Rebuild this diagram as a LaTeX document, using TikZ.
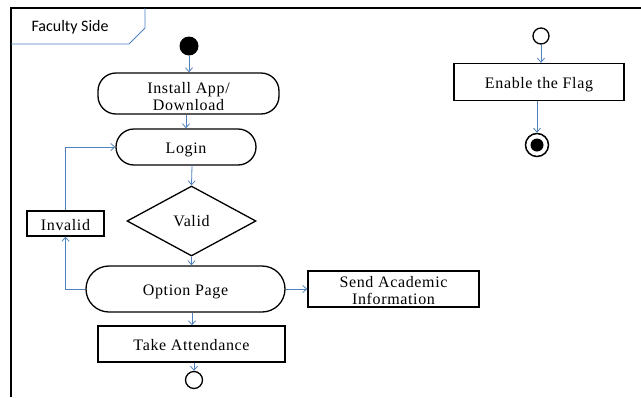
\documentclass[tikz,border=0pt]{standalone}
\usepackage{fontspec}
\setmainfont{Liberation Serif}[LetterSpace=4]
\newfontfamily\labelfont{Carlito}
\usetikzlibrary{arrows.meta,shapes.geometric,calc}
\definecolor{flow}{RGB}{79,129,189}
\tikzset{
  txt/.style={font=\fontsize{16}{17}\selectfont, align=center, text=black,
    text height=13.5pt, text depth=0pt},
  stadium/.style={txt, draw, line width=1.3pt, rounded corners=18pt, inner sep=0pt},
  actbox/.style={txt, draw, line width=1.3pt, inner sep=0pt},
  flowline/.style={draw=flow, line width=0.8pt, -{Straight Barb[length=4pt,width=7pt,line width=0.8pt]}},
}
\begin{document}
\begin{tikzpicture}[x=1pt,y=-1pt]
\useasboundingbox (0,0) rectangle (641,397);
\fill[white] (0,0) rectangle (641,397);

% swimlane frame and its label tab
\draw[line width=1.3pt] (11,397) -- (11,8) -- (641,8);
\draw[flow, line width=0.8pt] (145,8) -- (145,28) -- (129,44) -- (11,44);
\node[font=\labelfont\fontsize{16}{16}\selectfont, anchor=west] (lane) at (28,27) {Faculty Side};

% main flow
\fill (189,46) circle (9.5);
\coordinate (start) at (189,46);
\node[stadium, minimum width=181, minimum height=41, text height=34pt] (install) at (188.5,93.5) {Install App/\\Download};
\node[stadium, minimum width=140, minimum height=36] (login) at (186,147) {Login};
\node[draw, line width=1.3pt, diamond, minimum width=129, minimum height=70, inner sep=0pt, shape aspect=1.85] (valid) at (191.5,221) {};
\node[txt] (validtxt) at (191.5,220) {Valid};
\node[stadium, minimum width=199, minimum height=46, rounded corners=23pt] (option) at (185.5,289) {Option Page};
\node[actbox, minimum width=187, minimum height=36] (attend) at (191.5,344) {Take Attendance};
\node[draw, line width=1.3pt, circle, minimum size=17, inner sep=0pt] (stop) at (194,380) {};
\node[actbox, minimum width=77, minimum height=25] (invalid) at (65.5,223.5) {Invalid};
\node[actbox, minimum width=171, minimum height=36, text height=30pt] (send) at (393.5,289) {Send Academic\\Information};

% flag branch
\node[draw, line width=1.3pt, circle, minimum size=16, inner sep=0pt] (fstart) at (541,36) {};
\node[actbox, minimum width=170, minimum height=37] (flag) at (539,82) {Enable the Flag};
\node[draw, line width=1.5pt, circle, minimum size=23, inner sep=0pt] (fend) at (537,145) {};
\fill (fend.center) circle (6.5);

% connectors
\draw[flowline] (start) ++(0,9.5) -- (install.north -| start);
\draw[flowline] (install.south -| 186,0) -- (login.north -| 186,0);
\draw[flowline] (login.south -| 192,0) -- (valid.north);
\draw[flowline] (valid.south) -- (option.north -| valid.south);
\draw[flowline] (option.south -| 192,0) -- (attend.north -| 192,0);
\draw[flowline] (attend.south -| 194,0) -- (stop.north);
\draw[flowline] (option.east) -- (send.west);
\draw[flowline] (option.west) -| (invalid.south);
\draw[flowline] (invalid.north) |- (login.west);
\draw[flowline] (fstart.south) -- (flag.north -| fstart.south);
\draw[flowline] (flag.south -| fend.north) -- (fend.north);
\end{tikzpicture}
\end{document}
